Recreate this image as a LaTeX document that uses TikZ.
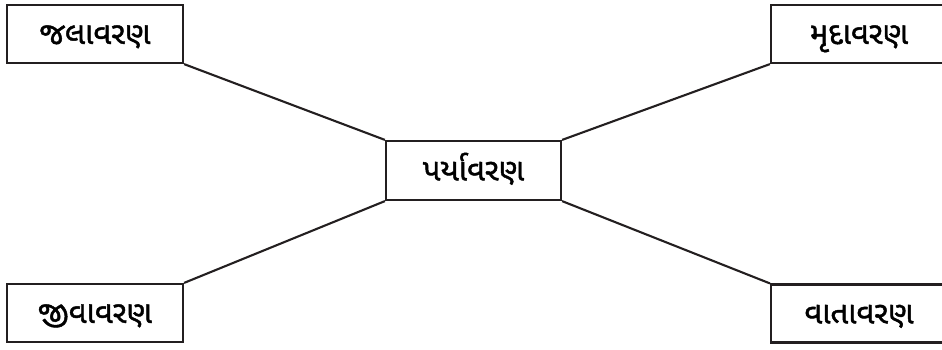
\documentclass[tikz,border=0pt]{standalone}
\usepackage{fontspec}
\newfontfamily\gujfont[Script=Gujarati, FakeBold=1.4]{Noto Sans Gujarati UI}
\usepackage{tikz}
\usetikzlibrary{positioning}
\definecolor{boxdraw}{HTML}{231F20}
\tikzset{
  env/.style={rectangle, draw=boxdraw, line width=2.2pt, fill=white, align=center, inner sep=0pt,
    minimum width=176pt, minimum height=58pt, text height=20pt, text depth=0pt,
    font=\gujfont\fontsize{31}{36}\selectfont},
  link/.style={line width=2.1pt, draw=boxdraw},
}
\begin{document}
\begin{tikzpicture}[x=1pt, y=-1pt]
  \useasboundingbox (0,0) rectangle (942,349);
  % centre
  \node[env, minimum width=175pt, minimum height=59pt] (par) at (473.5,170.5) {પર્યાવરણ};
  % four spheres
  \node[env] (jal) at (95,34) {જલાવરણ};
  \node[env] (mrd) at (859,34) {મૃદાવરણ};
  \node[env] (jiv) at (95,313) {જીવાવરણ};
  \node[env] (vat) at (859,313.5) {વાતાવરણ};
  % links
  \draw[link] (jal.south east) -- (par.north west);
  \draw[link] (mrd.south west) -- (par.north east);
  \draw[link] (jiv.north east) -- (par.south west);
  \draw[link] (vat.north west) -- (par.south east);
\end{tikzpicture}
\end{document}
